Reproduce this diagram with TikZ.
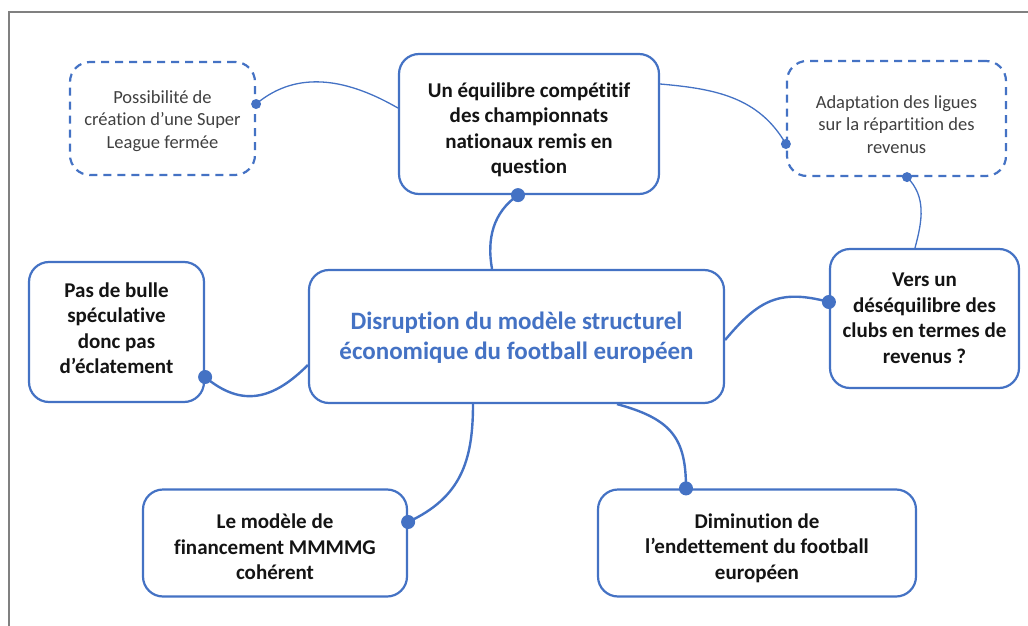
\documentclass[tikz,border=0pt]{standalone}
\usepackage{fontspec}
\setmainfont{Carlito}[Ligatures=NoCommon]
\begin{document}
\definecolor{mmblue}{HTML}{4472C4}
\definecolor{mmtext}{HTML}{141414}
\definecolor{mmgrey}{HTML}{404040}
\definecolor{framegrey}{HTML}{808080}
\begin{tikzpicture}[x=1pt,y=-1pt,
  mainbox/.style={draw=mmblue, line width=2.2pt, rounded corners=20pt, fill=white,
    inner sep=0pt},
  dashbox/.style={mainbox, dash pattern=on 8pt off 6pt},
  boldtext/.style={align=center, inner sep=0pt, text=mmtext,
    font=\bfseries\fontsize{21}{25.5}\selectfont},
  plaintext/.style={align=center, inner sep=0pt, text=mmgrey,
    font=\fontsize{18.5}{22.5}\selectfont},
  hubtext/.style={boldtext, text=mmblue, font=\bfseries\fontsize{25}{30}\selectfont},
  link/.style={draw=mmblue, line width=2.4pt},
  thinlink/.style={draw=mmblue, line width=1.3pt},
  bigdot/.style={fill=mmblue},
]
\useasboundingbox (0,0) rectangle (1028,626);
% page frame
\draw[framegrey, line width=1.6pt] (9,626) -- (9,12) -- (1028,12);

% box outlines
\node[mainbox, minimum width=415pt, minimum height=133pt] (ce) at (516.5,336.5) {};
\node[mainbox, minimum width=260pt, minimum height=140pt] (eq) at (529,124) {};
\node[dashbox, minimum width=185pt, minimum height=113pt] (sl) at (162.5,118.5) {};
\node[dashbox, minimum width=219pt, minimum height=115pt] (ad) at (896.5,118.5) {};
\node[mainbox, minimum width=175pt, minimum height=140pt] (pb) at (116.5,332) {};
\node[mainbox, minimum width=189pt, minimum height=139pt] (vu) at (924.5,318.5) {};
\node[mainbox, minimum width=264pt, minimum height=107pt] (bl) at (275,543) {};
\node[mainbox, minimum width=318pt, minimum height=107pt] (br) at (757,543) {};

% box texts
\node[hubtext] (ceText) at ([yshift=-1.5pt]ce.center)
  {Disruption du modèle structurel\\économique du football européen};
\node[boldtext] (eqText) at ([yshift=-6pt]eq.center)
  {Un équilibre compétitif\\des championnats\\nationaux remis en\\question};
\node[plaintext] (slText) at ([yshift=-2.5pt]sl.center)
  {Possibilité de\\création d’une Super\\League fermée};
\node[plaintext] (adText) at ([yshift=-6pt]ad.center)
  {Adaptation des ligues\\sur la répartition des\\revenus};
\node[boldtext] (pbText) at ([yshift=4pt]pb.center)
  {Pas de bulle\\spéculative\\donc pas\\d’éclatement};
\node[boldtext] (vuText) at (vu.center)
  {Vers un\\déséquilibre des\\clubs en termes de\\revenus ?};
\node[boldtext] (blText) at ([yshift=-4pt]bl.center)
  {Le modèle de\\financement MMMMG\\cohérent};
\node[boldtext] (brText) at ([yshift=-5pt]br.center)
  {Diminution de\\l’endettement du football\\européen};

% attachment points
\coordinate (ceT)  at ([xshift=-24.5pt]ce.north);
\coordinate (ceL)  at ([yshift=-28.5pt]ce.west);
\coordinate (ceR)  at ([yshift=-3.5pt]ce.east);
\coordinate (ceB1) at ([xshift=-43.5pt]ce.south);
\coordinate (ceB2) at ([xshift=100.5pt]ce.south);
\coordinate (eqD)  at ([xshift=-11pt]eq.south);
\coordinate (eqL)  at ([yshift=16pt]eq.west);
\coordinate (eqR)  at ([yshift=40pt]eq.east);
\coordinate (slD)  at ([yshift=14.5pt]sl.east);
\coordinate (adL)  at ([yshift=-25.5pt]ad.west);
\coordinate (adB)  at ([xshift=10.5pt]ad.south);
\coordinate (vuT)  at ([xshift=-9.5pt]vu.north);
\coordinate (vuD)  at ([yshift=16.5pt]vu.west);
\coordinate (pbD)  at ([yshift=-45pt]pb.east);
\coordinate (blD)  at ([yshift=21pt]bl.east);
\coordinate (brD)  at ([xshift=-71pt]br.north);

% connectors from the central box
\draw[link] (ceT) to[out=100, in=215] (eqD);
\draw[link] (pbD) to[out=-40, in=225, looseness=1.2] (ceL);
\draw[link] (ceR) to[out=50, in=165, looseness=1.2] (vuD);
\draw[link] (ceB1) to[out=-90, in=25, looseness=1.1] (blD);
\draw[link] (ceB2) .. controls +(55,15) and +(0,-50) .. (brD);

% secondary connectors
\draw[thinlink] (slD) to[out=40, in=150] (eqL);
\draw[thinlink] (eqR) to[out=-5, in=120] (adL);
\draw[thinlink] (adB) to[out=-45, in=75] (vuT);

% connection dots
\foreach \p in {eqD, pbD, vuD, blD, brD} \fill[bigdot] (\p) circle (7pt);
\foreach \p in {slD, adL, adB} \fill[bigdot] (\p) circle (5pt);
\end{tikzpicture}
\end{document}
